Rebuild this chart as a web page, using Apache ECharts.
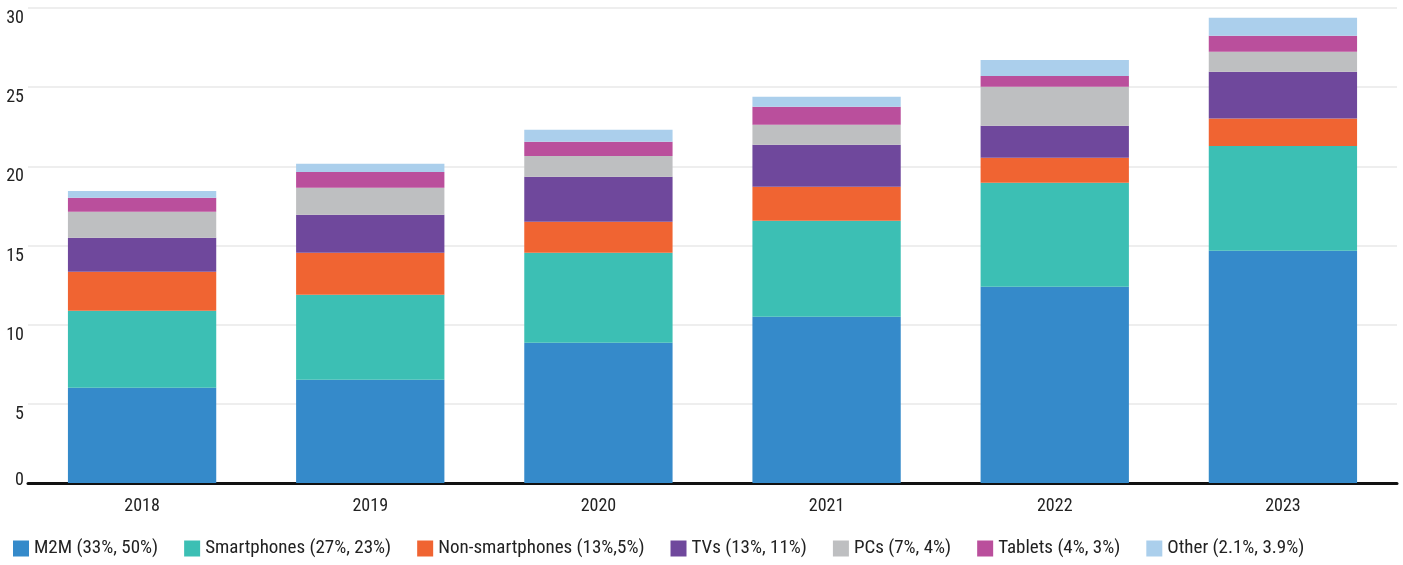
<!DOCTYPE html>
<html>
<head>
<meta charset="utf-8">
<script src="https://cdn.jsdelivr.net/npm/echarts@6/dist/echarts.min.js"></script>
<style>
  html, body { margin: 0; padding: 0; background: #fff; }
  #chart { width: 1403px; height: 565px; }
</style>
</head>
<body>
<div id="chart"></div>
<script>
// Connected devices by category, billions
const years = ['2018', '2019', '2020', '2021', '2022', '2023'];
const m2m = [6.02, 6.52, 8.86, 10.50, 12.39, 14.67];
const smartphones = [4.86, 5.37, 5.68, 6.06, 6.57, 6.62];
const nonSmartphones = [2.46, 2.65, 1.96, 2.15, 1.58, 1.73];
const tvs = [2.15, 2.40, 2.84, 2.65, 2.02, 2.95];
const pcs = [1.64, 1.70, 1.32, 1.26, 2.46, 1.27];
const tablets = [0.88, 1.01, 0.89, 1.14, 0.69, 1.01];
const other = [0.44, 0.51, 0.76, 0.63, 1.01, 1.14];
const yTicks = [0, 5, 10, 15, 20, 25, 30];

const seriesDefs = [
  { name: 'M2M (33%, 50%)', data: m2m, color: '#358aca' },
  { name: 'Smartphones (27%, 23%)', data: smartphones, color: '#3cbfb4' },
  { name: 'Non-smartphones (13%,5%)', data: nonSmartphones, color: '#f06432' },
  { name: 'TVs (13%, 11%)', data: tvs, color: '#6f489c' },
  { name: 'PCs (7%, 4%)', data: pcs, color: '#bebfc1' },
  { name: 'Tablets (4%, 3%)', data: tablets, color: '#ba4f9c' },
  { name: 'Other (2.1%, 3.9%)', data: other, color: '#abcfec' }
];

const FONT = "'Roboto Condensed', 'Open Sans', sans-serif";
const txt = { fontFamily: FONT, fontWeight: 'normal', fontSize: 18, color: '#222' };

const chart = echarts.init(document.getElementById('chart'), null, { renderer: 'canvas' });
chart.setOption({
  animation: false,
  textStyle: { fontFamily: FONT },
  grid: { left: 28, right: 6, top: 8, bottom: 82, containLabel: false },
  legend: {
    left: 8,
    bottom: 2,
    width: 1390,
    itemWidth: 16,
    itemHeight: 16,
    itemGap: 26,
    icon: 'rect',
    textStyle: Object.assign({}, txt, { fontSize: 19 }),
    data: seriesDefs.map(s => s.name)
  },
  xAxis: {
    type: 'category',
    data: years,
    axisLine: { lineStyle: { color: '#111', width: 3 } },
    axisTick: { show: false },
    axisLabel: Object.assign({ margin: 14 }, txt)
  },
  yAxis: {
    type: 'value',
    min: yTicks[0],
    max: yTicks[yTicks.length - 1],
    interval: 5,
    axisLine: { show: false },
    axisTick: { show: false },
    splitLine: { lineStyle: { color: '#e8e8e8', width: 1.5 } },
    axisLabel: Object.assign({
      margin: 4,
      verticalAlign: 'middle',
      formatter: v => (v === 0 ? '{z|0}' : '{n|' + v + '}'),
      rich: {
        n: Object.assign({ padding: [21, 0, 0, 0] }, txt),
        z: Object.assign({ padding: [0, 0, 6, 0] }, txt)
      }
    }, txt)
  },
  series: seriesDefs.map(s => ({
    name: s.name,
    type: 'bar',
    stack: 'total',
    barWidth: '65%',
    data: s.data,
    itemStyle: { color: s.color },
    emphasis: { disabled: true }
  }))
});
</script>
</body>
</html>
